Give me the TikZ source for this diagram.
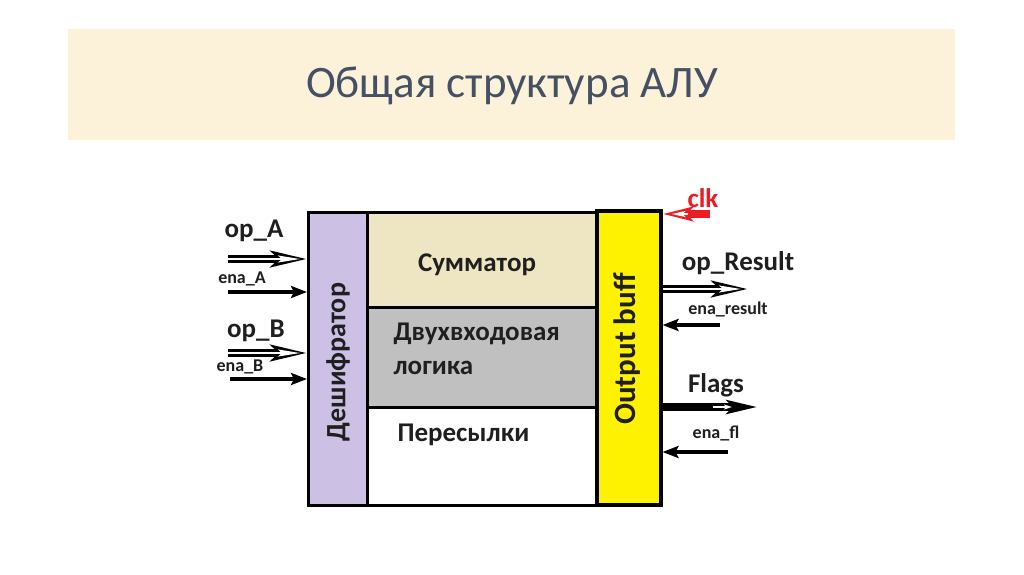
\documentclass[tikz,border=0pt]{standalone}
\usepackage{fontspec}
\setmainfont{Carlito}
\usetikzlibrary{arrows.meta,calc}
\definecolor{band}{RGB}{252,242,218}
\definecolor{titlec}{RGB}{68,80,100}
\definecolor{lav}{RGB}{204,193,228}
\definecolor{beig}{RGB}{238,230,194}
\definecolor{gry}{RGB}{192,192,192}
\definecolor{yel}{RGB}{255,242,0}
\definecolor{redc}{RGB}{237,28,36}
\tikzset{
  blk/.style={draw=black, line width=2.5pt, inner sep=0pt, anchor=north west},
  lbl/.style={font=\bfseries\fontsize{27}{29}\selectfont, text=black!88},
  small/.style={font=\bfseries\fontsize{18}{20}\selectfont, text=black!88},
  big/.style={font=\bfseries\fontsize{27}{29}\selectfont, text=black!88},
  bus/.style={line width=8pt, -{Stealth[length=36pt,width=16pt,inset=8pt]},
    postaction={draw=white, line width=2.2pt, shorten >=7pt, -{Stealth[length=22pt,width=7pt,inset=4pt]}}},
  clkbus/.style={line width=8pt, -{Stealth[length=30pt,width=14pt,inset=6pt]},
    postaction={draw=white, line width=2.2pt, shorten >=9pt, shorten <=22pt, -{Stealth[length=14pt,width=6pt,inset=3pt]}}},
  flagbus/.style={line width=8pt, -{Stealth[length=32pt,width=11pt,inset=4pt]},
    postaction={draw=white, line width=2pt, shorten >=30pt, shorten <=50pt, -{Stealth[length=8pt,width=5pt,inset=2pt]}}},
  sig/.style={line width=3.2pt, -{Stealth[length=16pt,width=12pt,inset=3pt]}},
}
\begin{document}
\begin{tikzpicture}[x=1pt,y=-1pt]
\useasboundingbox (0,0) rectangle (1024,574);
\fill[white] (0,0) rectangle (1024,574);
\node[fill=band, minimum width=887pt, minimum height=111pt, inner sep=0pt, anchor=north west] (band) at (68,29) {};
\node[text=titlec, font=\fontsize{45}{47}\selectfont] (title) at (512,86) {Общая структура АЛУ};
% blocks
\node[blk, fill=beig, minimum width=229pt, minimum height=95pt] (sum) at (366,211) {};
\node[blk, fill=gry, minimum width=229pt, minimum height=100pt] (log) at (366,306) {};
\node[blk, fill=white, minimum width=229pt, minimum height=98pt] (per) at (366,406) {};
\node[blk, fill=lav, minimum width=59pt, minimum height=293pt] (dec) at (307,211) {};
\node[blk, fill=yel, line width=3.5pt, minimum width=64pt, minimum height=294pt] (out) at (595,209) {};
% texts
\node[lbl] (tsum) at (477,265) {Сумматор};
\node[lbl, anchor=west] (tlog1) at (390,334) {Двухвходовая};
\node[lbl, anchor=west] (tlog2) at (390,368) {логика};
\node[lbl, anchor=west] (tper) at (394,435) {Пересылки};
\node[font=\bfseries\fontsize{28}{30}\selectfont, text=black!88, rotate=90] (tdec) at (338,362) {Дешифратор};
\node[font=\bfseries\fontsize{31}{33}\selectfont, text=black!88, rotate=90] (tout) at (627,349) {Output buff};
% left inputs
\coordinate (opA) at (228,259);
\coordinate (enaA) at (228,292);
\coordinate (opB) at (228,353);
\coordinate (enaB) at (230,379);
\draw[bus] (opA) -- (opA -| dec.west);
\draw[sig] (enaA) -- (enaA -| dec.west);
\draw[bus] (opB) -- (opB -| dec.west);
\draw[sig] (enaB) -- (enaB -| dec.west);
\node[big] (lopA) at (254,231) {op\_A};
\node[small] (lenaA) at (242,279) {ena\_A};
\node[big] (lopB) at (256,331) {op\_B};
\node[small] (lenaB) at (240,367) {ena\_B};
% right side
\coordinate (clk) at (710,214);
\coordinate (res) at (748,289);
\coordinate (enr) at (720,325);
\coordinate (flg) at (762,407);
\coordinate (enf) at (728,452);
\draw[clkbus, draw=redc] (clk) -- (clk -| out.east);
\draw[bus] (res -| out.east) -- (res);
\draw[sig] (enr) -- (enr -| out.east);
\draw[flagbus] (flg -| out.east) -- (flg);
\draw[sig] (enf) -- (enf -| out.east);
\node[big, text=redc] (lclk) at (703,198) {clk};
\node[big] (lres) at (738,263) {op\_Result};
\node[small] (lenr) at (728,309) {ena\_result};
\node[big] (lflg) at (716,385) {Flags};
\node[small] (lenf) at (716,433) {ena\_fl};
\end{tikzpicture}
\end{document}
